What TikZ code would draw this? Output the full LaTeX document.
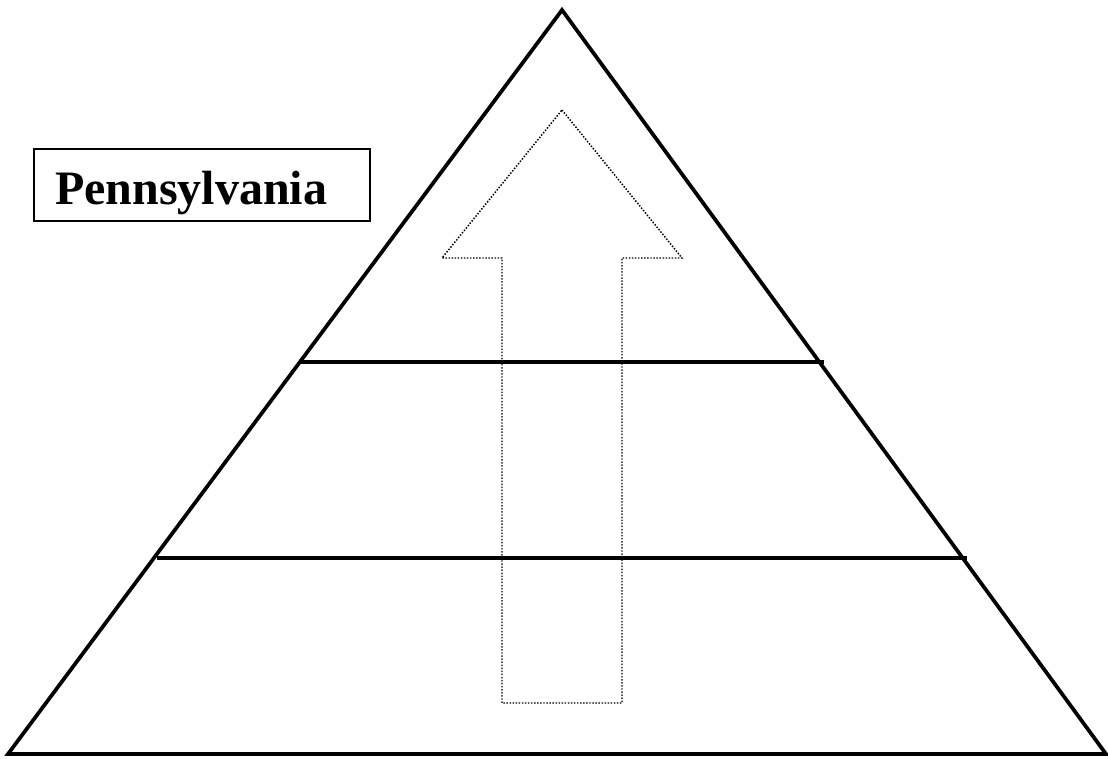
\documentclass[tikz,border=0pt]{standalone}
\usepackage{fontspec}
\setmainfont{Liberation Serif}

\tikzset{
  thickline/.style={line width=2.8pt},
  dotline/.style={line width=1.1pt, dash pattern=on 1.1pt off 1.2pt},
}

\begin{document}
\begin{tikzpicture}[x=0.75pt,y=-0.75pt]
    \useasboundingbox (0,0) rectangle (1108,758);

    % pyramid
    \coordinate (apex) at (562,10);
    \coordinate (baseL) at (8,754);
    \coordinate (baseR) at (1106,754);
    \draw[thickline] (apex) -- (baseR) -- (baseL) -- cycle;

    % tiers
    \coordinate (tierAL) at (300,362);
    \coordinate (tierAR) at (824,362);
    \coordinate (tierBL) at (157,558);
    \coordinate (tierBR) at (967,558);
    \draw[thickline] (tierAL) -- (tierAR);
    \draw[thickline] (tierBL) -- (tierBR);

    % upward arrow
    \draw[dotline] (562,110) -- (682,258) -- (622,258) -- (622,703)
        -- (502,703) -- (502,258) -- (442,258) -- cycle;

    % label
    \node[draw, line width=1.5pt, anchor=north west, minimum width=252pt,
        minimum height=54pt, inner sep=0pt] (pabox) at (33,148) {};
    \node[anchor=base west, inner sep=0pt, font=\fontsize{36}{40}\selectfont\bfseries]
        (palabel) at (55,204) {Pennsylvania};
\end{tikzpicture}
\end{document}
